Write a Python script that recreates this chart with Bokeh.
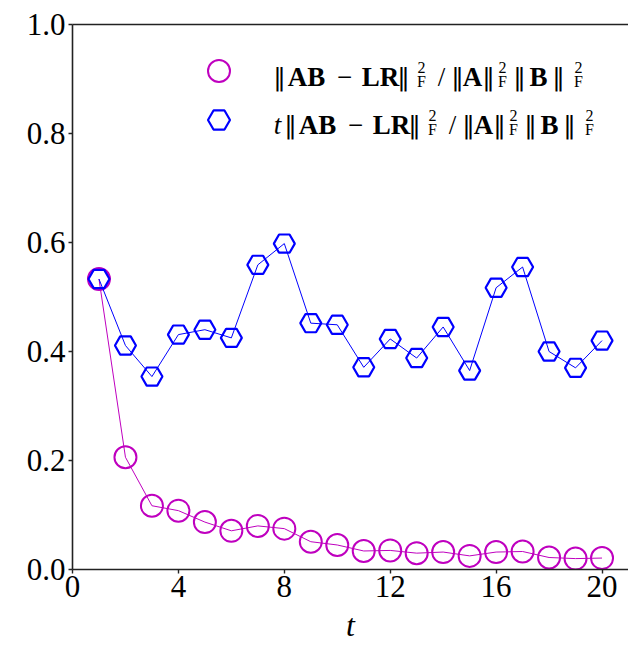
from bokeh.plotting import figure
from bokeh.models import Range1d, FixedTicker, LinearAxis, Label, Legend, LegendItem
from bokeh.embed import file_html
from bokeh.resources import INLINE
from bokeh.core.properties import value

# ---- data ----
t = [1, 2, 3, 4, 5, 6, 7, 8, 9, 10, 11, 12, 13, 14, 15, 16, 17, 18, 19, 20]
rel_err = [0.533, 0.206, 0.117, 0.108, 0.087, 0.071, 0.080, 0.075, 0.051, 0.045,
           0.034, 0.035, 0.030, 0.032, 0.025, 0.032, 0.033, 0.022, 0.020, 0.021]
scaled_err = [0.533, 0.411, 0.354, 0.431, 0.440, 0.425, 0.559, 0.598, 0.452, 0.449,
              0.371, 0.423, 0.388, 0.445, 0.365, 0.517, 0.555, 0.400, 0.370, 0.420]
x_ticks = [0, 4, 8, 12, 16, 20]
y_ticks = [0.0, 0.2, 0.4, 0.6, 0.8, 1.0]
y_tick_labels = ["0.0", "0.2", "0.4", "0.6", "0.8", "1.0"]
x_label = "t"

MAGENTA = "#bf00bf"
BLUE = "#0000ff"
SERIF = "Liberation Serif"

p = figure(width=628, height=645, output_backend="svg", toolbar_location=None,
           x_range=Range1d(0, 21), y_range=Range1d(0, 1),
           min_border_left=72, min_border_right=0, min_border_top=24, min_border_bottom=76)
p.outline_line_color = None
p.grid.visible = False
p.background_fill_color = "white"
p.border_fill_color = "white"

for ax in (p.xaxis[0], p.yaxis[0]):
    ax.axis_line_color = "#222222"
    ax.axis_line_width = 1.6
    ax.major_tick_line_color = "#222222"
    ax.major_tick_line_width = 1.4
    ax.major_tick_out = 4
    ax.major_tick_in = 0
    ax.minor_tick_line_color = None
    ax.major_label_text_font = SERIF
    ax.major_label_text_font_size = "31px"
    ax.major_label_text_color = "black"

p.xaxis.ticker = FixedTicker(ticks=x_ticks)
p.yaxis.ticker = FixedTicker(ticks=y_ticks)
p.yaxis.major_label_overrides = {v: s for v, s in zip(y_ticks, y_tick_labels)}
p.xaxis.major_label_standoff = 2
p.yaxis.major_label_standoff = 3
p.xaxis.axis_label = x_label
p.xaxis.axis_label_text_font = SERIF
p.xaxis.axis_label_text_font_style = "italic"
p.xaxis.axis_label_text_font_size = "32px"
p.xaxis.axis_label_standoff = 7
p.xaxis.axis_label_text_color = "black"

top = LinearAxis(ticker=FixedTicker(ticks=[]), axis_line_color="#222222", axis_line_width=1.6,
                 major_tick_line_color=None, minor_tick_line_color=None,
                 major_label_text_font_size="0px", major_tick_out=0, major_label_standoff=0)
p.add_layout(top, "above")

l1 = p.line(t, rel_err, line_color=MAGENTA, line_width=1)
s1 = p.scatter(t, rel_err, marker="circle", size=22, fill_color=None,
               line_color=MAGENTA, line_width=2)
l2 = p.line(t, scaled_err, line_color=BLUE, line_width=1)
s2 = p.scatter(t, scaled_err, marker="hex", size=21, fill_color=None,
               line_color=BLUE, line_width=2.2)

for rend, loc in ((s1, (119, 471)), (s2, (119, 422))):
    lg = Legend(items=[LegendItem(label=value(""), renderers=[rend])],
                location=loc, glyph_width=55, glyph_height=55,
                padding=0, margin=0, border_line_color=None, background_fill_alpha=0,
                label_width=0, label_standoff=0, label_text_font_size="1px")
    p.add_layout(lg, "center")

# ---- legend texts composed from real text pieces (page pixels -> frame) ----
FL, FB = 72, 569  # frame left / bottom on the page


def piece(xc, base, text, kind):
    font, size, style, dy = SERIF, "27px", "normal", 0
    if kind == "b":
        style = "bold"
    elif kind == "i":
        style = "italic"
    elif kind == "bar":
        font = "DejaVu Serif"
        size = "25px"
    elif kind == "sup":
        size, dy = "16px", -9
    elif kind == "sub":
        size, dy = "16px", 5
    p.add_layout(Label(x=xc - FL, y=FB - (base + dy), x_units="screen", y_units="screen",
                       text=text, text_font=font, text_font_size=size, text_font_style=style,
                       text_color="black", text_baseline="alphabetic", text_align="center"))


# glyph centres, relative to the start of the first line
norm_parts = [(5, "\u2016", "bar"), (32, "AB", "b"), (70, "\u2212", "n"), (106, "LR", "b"),
              (129, "\u2016", "bar"), (147, "2", "sup"), (147, "F", "sub"), (167, "/", "n"),
              (183, "\u2016", "bar"), (198, "A", "b"), (214, "\u2016", "bar"), (228, "2", "sup"),
              (228, "F", "sub"), (245, "\u2016", "bar"), (264, "B", "b"), (284, "\u2016", "bar"),
              (304, "2", "sup"), (304, "F", "sub")]

for dx, txt, kind in norm_parts:
    piece(274 + dx, 76, txt, kind)
piece(277, 124, "t", "i")
for dx, txt, kind in norm_parts:
    piece(285 + dx, 124, txt, kind)

open("out.html", "w").write(file_html(p, INLINE))
